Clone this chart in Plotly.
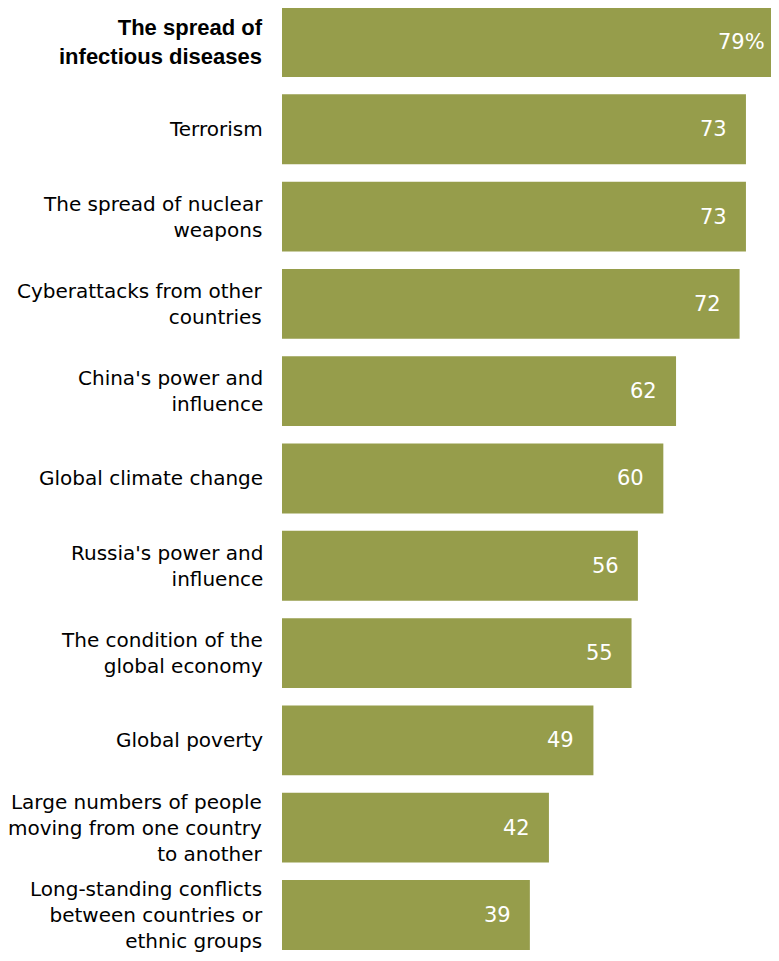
import plotly.graph_objects as go

categories = [
    "<b>The spread of<br>infectious diseases</b>",
    "Terrorism",
    "The spread of nuclear<br>weapons",
    "Cyberattacks from other<br>countries",
    "China's power and<br>influence",
    "Global climate change",
    "Russia's power and<br>influence",
    "The condition of the<br>global economy",
    "Global poverty",
    "Large numbers of people<br>moving from one country<br>to another",
    "Long-standing conflicts<br>between countries or<br>ethnic groups",
]
values = [79, 73, 73, 72, 62, 60, 56, 55, 49, 42, 39]
value_labels = ["79%", "73", "73", "72", "62", "60", "56", "55", "49", "42", "39"]

X_MAX = 78.2  # visible end of the value axis (the top bar runs past the edge)

BAR_COLOR = "#969D4B"
FONT = "DejaVu Sans, Verdana, sans-serif"
BOLD_FONT = "Liberation Sans, Arial, sans-serif"

fig = go.Figure()
fig.add_trace(go.Bar(
    x=values,
    y=categories,
    orientation="h",
    marker=dict(color=BAR_COLOR, line=dict(width=0)),
    width=0.8,
    hoverinfo="skip",
))

annotations = []
for i, (cat, v, lab) in enumerate(zip(categories, values, value_labels)):
    annotations.append(dict(
        x=v / X_MAX, y=cat, xref="paper", yref="y", text=lab, showarrow=False,
        xanchor="right", yanchor="middle", xshift=-17,
        font=dict(family=FONT, size=21, color="white"),
    ))
    bold = cat.startswith("<b>")
    annotations.append(dict(
        x=0, y=cat, xref="paper", yref="y", text=cat, showarrow=False,
        xanchor="right", yanchor="middle", align="right", xshift=-17,
        font=dict(family=BOLD_FONT if bold else FONT, size=22 if bold else 20,
                  color="#000000"),
    ))

fig.update_layout(
    width=771, height=953,
    margin=dict(l=274, r=0, t=0, b=0),
    paper_bgcolor="white", plot_bgcolor="white",
    showlegend=False,
    xaxis=dict(range=[0, X_MAX], visible=False, fixedrange=True),
    yaxis=dict(
        categoryorder="array", categoryarray=categories,
        range=[10.527, -0.389], visible=False, fixedrange=True,
    ),
    annotations=annotations,
    bargap=0.2,
)

fig.write_html("out.html", config={"displayModeBar": False})
